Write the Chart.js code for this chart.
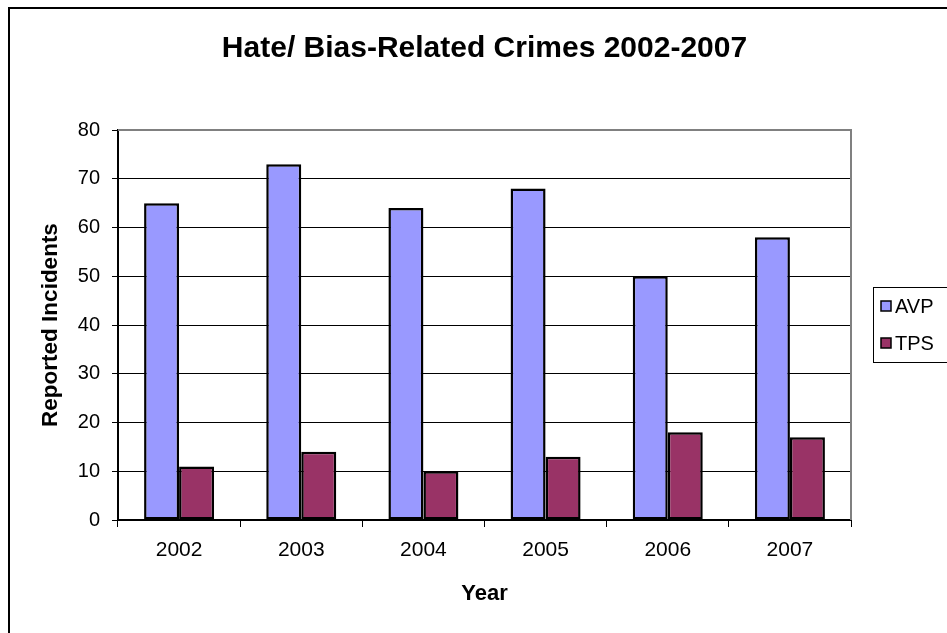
<!DOCTYPE html>
<html>
<head>
<meta charset="utf-8">
<script src="https://cdn.jsdelivr.net/npm/chart.js@4.4.1/dist/chart.umd.min.js"></script>
<style>
  html, body { margin: 0; padding: 0; background: #fff; }
  canvas { display: block; }
</style>
</head>
<body>
<canvas id="chart" width="947" height="633"></canvas>
<script>
// data
const years = ['2002', '2003', '2004', '2005', '2006', '2007'];
const avpValues = [65, 73, 64, 68, 50, 58];
const tpsValues = [11, 14, 10, 13, 18, 17];
const seriesNames = ['AVP', 'TPS'];
const yMin = 0;
const yMax = 80;
const yStep = 10;

Chart.defaults.font.family = "'Liberation Sans', Arial, sans-serif";
Chart.defaults.color = '#000';

// outer frame, plot border and the boxed legend on the right
const excelFrame = {
  id: 'excelFrame',
  beforeDraw(chart) {
    const ctx = chart.ctx;
    ctx.save();
    ctx.fillStyle = '#fff';
    ctx.fillRect(0, 0, chart.width, chart.height);
    ctx.strokeStyle = '#000';
    ctx.lineWidth = 2;
    ctx.strokeRect(9, 8, chart.width + 20, chart.height + 20);
    ctx.restore();
  },
  afterDraw(chart) {
    const ctx = chart.ctx;
    const a = chart.chartArea;
    ctx.save();
    ctx.strokeStyle = '#808080';
    ctx.lineWidth = 2;
    ctx.beginPath();
    ctx.moveTo(a.left, a.top);
    ctx.lineTo(a.right, a.top);
    ctx.lineTo(a.right, a.bottom);
    ctx.stroke();

    // legend
    const lx = 873, ly = 287;
    ctx.strokeStyle = '#000';
    ctx.lineWidth = 1;
    ctx.strokeRect(lx + 0.5, ly + 0.5, 100, 75);
    ctx.font = '20px ' + Chart.defaults.font.family;
    ctx.textBaseline = 'middle';
    ctx.textAlign = 'left';
    chart.data.datasets.forEach((ds, i) => {
      const cy = 306 + i * 37;
      ctx.fillStyle = ds.backgroundColor;
      ctx.fillRect(881, cy - 5, 10, 10);
      ctx.lineWidth = 1.5;
      ctx.strokeRect(881, cy - 5, 10, 10);
      ctx.fillStyle = '#000';
      ctx.fillText(ds.label, 895, cy + 1);
    });
    ctx.restore();
  }
};

new Chart(document.getElementById('chart'), {
  type: 'bar',
  data: {
    labels: years,
    datasets: [
      {
        label: seriesNames[0],
        data: avpValues,
        backgroundColor: '#9999FF',
        borderColor: '#000',
        borderWidth: 2.5,
        borderSkipped: false,
        categoryPercentage: 0.573,
        barPercentage: 1
      },
      {
        label: seriesNames[1],
        data: tpsValues,
        backgroundColor: '#993366',
        borderColor: '#000',
        borderWidth: 2.5,
        borderSkipped: false,
        categoryPercentage: 0.573,
        barPercentage: 1
      }
    ]
  },
  options: {
    responsive: false,
    animation: false,
    layout: { padding: { left: 10, right: 96, top: 0, bottom: 0 } },
    plugins: {
      legend: { display: false },
      tooltip: { enabled: false },
      title: {
        display: true,
        fullSize: false,
        text: 'Hate/ Bias-Related Crimes 2002-2007',
        color: '#000',
        font: { size: 30, weight: 'bold' },
        padding: { top: 31, bottom: 63 }
      }
    },
    scales: {
      x: {
        afterFit(scale) { scale.height = 113; },
        grid: {
          drawOnChartArea: false,
          drawTicks: true,
          tickLength: 7,
          tickColor: '#000',
          offset: true
        },
        border: { color: '#000', width: 2 },
        ticks: { color: '#000', font: { size: 21 }, padding: 11, maxRotation: 0 },
        title: {
          display: true,
          text: 'Year',
          color: '#000',
          font: { size: 22, weight: 'bold' },
          padding: { top: 0, bottom: 26 }
        }
      },
      y: {
        min: yMin,
        max: yMax,
        afterFit(scale) { scale.width = 108; },
        grid: {
          color: ctx => (ctx.tick && ctx.tick.value === yMax ? 'rgba(0,0,0,0)' : '#000'),
          lineWidth: 1,
          tickLength: 6,
          tickColor: '#000'
        },
        border: { color: '#000', width: 2 },
        ticks: { stepSize: yStep, color: '#000', font: { size: 20 }, padding: 12 },
        title: {
          display: true,
          text: 'Reported Incidents',
          color: '#000',
          font: { size: 22.5, weight: 'bold' },
          padding: { top: 27, bottom: 0 }
        }
      }
    }
  },
  plugins: [excelFrame]
});
</script>
</body>
</html>
